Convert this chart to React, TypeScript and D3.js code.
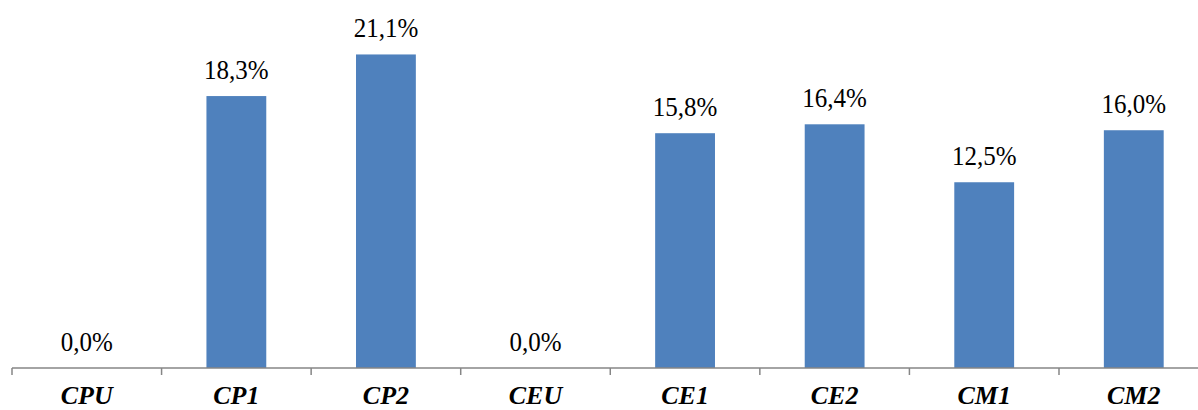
import React from "react";
import * as d3 from "d3";

// Share per configuration (percent)
const categories: string[] = ["CPU", "CP1", "CP2", "CEU", "CE1", "CE2", "CM1", "CM2"];
const values: number[] = [0.0, 18.3, 21.1, 0.0, 15.8, 16.4, 12.5, 16.0];

const W = 1198;
const H = 410;
const axisY = 368;
const left = 12;
const step = 149.57;

const fmt = (v: number) => v.toFixed(1).replace(".", ",") + "%";

export default function App() {
  const x = d3
    .scaleBand<string>()
    .domain(categories)
    .range([left, left + step * categories.length])
    .paddingInner(0.6)
    .paddingOuter(0.3);
  const y = d3.scaleLinear().domain([0, 25]).range([axisY, axisY - 25 * 14.86]);

  const ticks = d3.range(categories.length + 1).map((i) => left + i * step);

  return (
    <svg
      width={W}
      height={H}
      style={{ position: "absolute", left: 0, top: 0, background: "#fff" }}
    >
      {categories.map((c, i) => (
        <rect
          key={c}
          x={x(c)!}
          y={y(values[i])}
          width={x.bandwidth()}
          height={axisY - y(values[i])}
          fill="#4F81BD"
        />
      ))}
      <line x1={left} x2={W + 20} y1={axisY} y2={axisY} stroke="#868686" strokeWidth={1.5} />
      {ticks.map((t, i) => (
        <line key={i} x1={t} x2={t} y1={axisY} y2={axisY + 7} stroke="#868686" strokeWidth={1.5} />
      ))}
      {categories.map((c, i) => {
        const cx = x(c)! + x.bandwidth() / 2;
        const by = y(values[i]) - 17;
        return (
          <text
            key={"v" + c}
            transform={`translate(${cx},${by}) scale(1,1.08)`}
            textAnchor="middle"
            fontFamily="'Liberation Serif', 'Times New Roman', serif"
            fontSize={25}
            fill="#000"
          >
            {fmt(values[i])}
          </text>
        );
      })}
      {categories.map((c) => (
        <text
          key={"c" + c}
          x={x(c)! + x.bandwidth() / 2}
          y={404}
          textAnchor="middle"
          fontFamily="'Liberation Serif', 'Times New Roman', serif"
          fontSize={26}
          fontWeight="bold"
          fontStyle="italic"
          fill="#000"
        >
          {c}
        </text>
      ))}
    </svg>
  );
}
